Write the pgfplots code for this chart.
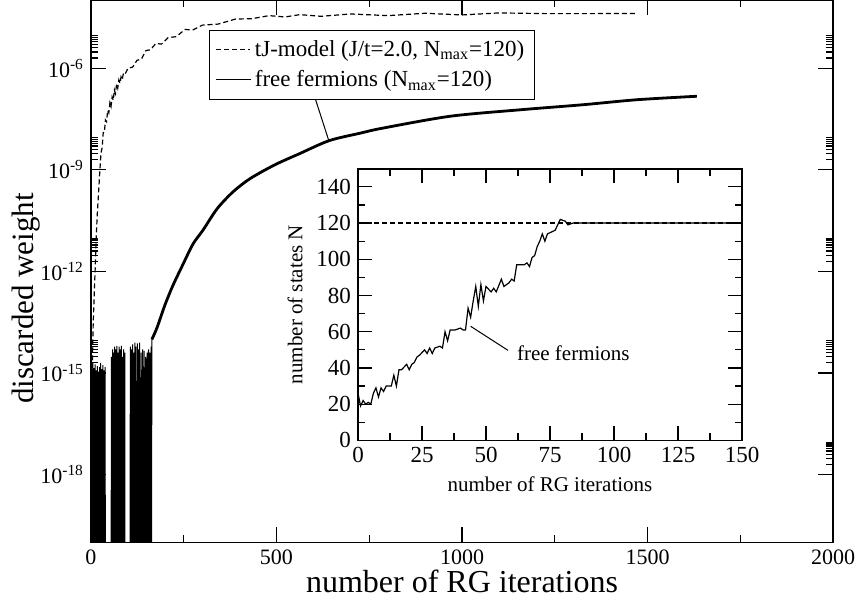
\documentclass[border=0pt]{standalone}
\usepackage{fontspec}
\setmainfont{Liberation Serif}
\usepackage{pgfplots}
\pgfplotsset{compat=1.18}
\begin{document}
\begin{tikzpicture}
\begin{axis}[
  name=main,
  scale only axis, width=371pt, height=271pt,
  xmin=0, xmax=2000,
  ymode=log, ymin=1e-20, ymax=1e-4,
  xtick={0,500,1000,1500,2000}, minor x tick num=1,
  ytick={1e-18,1e-15,1e-12,1e-9,1e-6},
  yticklabels={10\textsuperscript{-18},10\textsuperscript{-15},10\textsuperscript{-12},10\textsuperscript{-9},10\textsuperscript{-6}},
  minor ytick={2e-18,3e-18,4e-18,5e-18,6e-18,7e-18,8e-18,9e-18,
               2e-15,3e-15,4e-15,5e-15,6e-15,7e-15,8e-15,9e-15,
               2e-12,3e-12,4e-12,5e-12,6e-12,7e-12,8e-12,9e-12,
               2e-9,3e-9,4e-9,5e-9,6e-9,7e-9,8e-9,9e-9,
               2e-6,3e-6,4e-6,5e-6,6e-6,7e-6,8e-6,9e-6},
  tick pos=both, tick align=inside,
  major tick length=7.5pt, minor tick length=3.5pt,
  every tick/.style={black, line width=0.6pt},
  axis line style={line width=0.8pt},
  /pgf/number format/assume math mode=true,
  /pgf/number format/1000 sep={},
  tick label style={font=\fontsize{11}{13}\selectfont},
  xlabel={number of RG iterations},
  ylabel={discarded weight},
  xlabel style={font=\fontsize{16}{19}\selectfont, at={(rel axis cs:0.5,0)}, anchor=center, yshift=-19.5pt},
  ylabel style={font=\fontsize{15.5}{18}\selectfont, at={([xshift=-32.5pt]rel axis cs:0,0.45)}, anchor=center},
  legend style={at={(0.159,0.946)}, anchor=north west, draw=black, line width=0.6pt,
    font=\fontsize{11.5}{13.5}\selectfont, inner xsep=3pt, inner ysep=3pt, row sep=1.5pt},
  legend cell align=left,
  legend image post style={line width=0.6pt},
]
\addplot[black, line width=0.6pt, dash pattern=on 2.5pt off 1.5pt] coordinates {
(1.5,1e-21) (2.5,5e-16) (6,3.16e-14) (11,1e-12) (14,1e-11) (17,5.01e-11) (20,1.78e-10) (24,1e-9)
(27,3.16e-9) (30,4.47e-9) (33,1.26e-8) (36,1.26e-8) (39,2.95e-8) (42,2.63e-8) (45,5.75e-8) (48,4.79e-8)
(51,9.55e-8) (54,7.41e-8) (57,1.41e-7) (60,1.12e-7) (63,2.29e-7) (66,1.78e-7) (69,3.39e-7) (72,2.57e-7)
(75,4.47e-7) (78,3.55e-7) (81,5.50e-7) (84,4.57e-7) (87,6.61e-7) (90,6.17e-7)
(100,1.00e-6) (112,1.07e-6) (124,1.70e-6) (136,1.86e-6) (148,3.31e-6) (160,3.47e-6) (175,5.37e-6) (190,5.13e-6)
(208,7.94e-6) (230,8.51e-6) (253,1.38e-5) (275,1.35e-5) (300,1.86e-5) (343,2.00e-5) (390,2.82e-5) (433,2.88e-5)
(480,3.55e-5) (523,3.24e-5) (563,3.80e-5) (620,3.39e-5) (700,3.98e-5) (800,3.55e-5) (900,4.17e-5) (1000,3.72e-5)
(1100,4.27e-5) (1224,4.07e-5) (1350,4.07e-5) (1474,4.12e-5)
};
\addlegendentry{tJ-model (J/t=2.0, N\textsubscript{max}=120)}
\addplot[black, line width=0.5pt, forget plot] coordinates {
(0,1e-24) (1,1.6e-15) (2,1e-24) (3,1.3e-15) (4,1e-24) (5,2e-15) (6,1e-24) (8,1.4e-15) (9,1e-24)
(11,1.8e-15) (12,1e-24) (14,1.2e-15) (15,1e-24) (17,1.6e-15) (18,1e-24) (20,1.1e-15) (21,1e-24)
(23,1.5e-15) (24,1e-24) (26,2e-15) (27,1e-24) (29,1.3e-15) (30,1e-24) (32,1.7e-15) (33,1e-24)
(35,1.2e-15) (36,1e-24) (38,1.5e-15) (39,1e-24)
(54,1e-24) (55,3e-15) (56,1e-24) (58,5e-15) (59,1e-24) (61,4e-15) (62,1e-24) (64,6e-15) (65,1e-24)
(67,5e-15) (68,1e-24) (70,6.3e-15) (71,1e-24) (73,4e-15) (74,1e-24) (76,6e-15) (77,1e-24)
(79,5e-15) (80,1e-24) (82,6.3e-15) (83,1e-24) (85,3e-15) (86,1e-24) (88,5e-15) (89,1e-24)
(91,4e-15) (92,1e-24)
(105,1e-24) (106,6e-15) (107,1e-24) (109,5e-15) (110,1e-24) (112,7e-15) (113,1e-24) (115,4e-15)
(116,1e-24) (118,7.9e-15) (119,1e-24) (121,6e-15) (122,1e-24) (125,7.5e-15) (126,1e-24) (128,5e-15)
(129,1e-24) (131,7.9e-15) (132,1e-24) (135,4e-15) (136,1e-24) (139,5e-15) (140,1e-24) (143,4.5e-15)
(144,1e-24) (147,3e-15) (148,1e-24) (151,4e-15) (152,1e-24) (155,5e-15) (156,1e-24) (159,4e-15)
(160,1e-24) (162,6e-15) (163,1e-24) (164,9.77e-15)
};
\addplot[black, line width=1.4pt, smooth, tension=0.5] coordinates {
(164,9.77e-15) (178,2.19e-14) (199,1.00e-13) (221,3.89e-13) (248,1.62e-12) (275,6.46e-12)
(302,1.66e-11) (340,7.08e-11) (383,2.24e-10) (429,5.50e-10) (496,1.41e-9) (563,3.02e-9)
(642,7.24e-9) (725,1.20e-8) (787,1.70e-8) (968,3.80e-8) (1156,5.89e-8) (1326,8.32e-8)
(1472,1.17e-7) (1633,1.48e-7)
};
\addlegendentry{free fermions (N\textsubscript{max}=120)}
\draw[line width=0.5pt] (axis cs:598,2.09e-7) -- (axis cs:641,7.24e-9);
\end{axis}
\begin{axis}[
  name=inset,
  at={(133.5pt,51pt)}, anchor=south west,
  scale only axis, width=192pt, height=135.85pt,
  xmin=0, xmax=150, ymin=0, ymax=150,
  xtick={0,25,50,75,100,125,150}, minor x tick num=1,
  ytick={0,20,40,60,80,100,120,140}, minor y tick num=1,
  tick pos=both, tick align=inside,
  major tick length=7pt, minor tick length=3.5pt,
  every tick/.style={black, line width=0.6pt},
  axis line style={line width=0.8pt},
  axis background/.style={fill=white},
  /pgf/number format/assume math mode=true,
  tick label style={font=\fontsize{11.5}{13.5}\selectfont},
  label style={font=\fontsize{10.5}{12.5}\selectfont},
  xlabel={number of RG iterations},
  ylabel={number of states N},
]
\addplot[black, line width=0.6pt, dash pattern=on 2.5pt off 1.5pt] coordinates {(0,120) (150,120)};
\addplot[black, line width=0.6pt] coordinates {
(0,26) (1,19) (2,22) (3,20) (4,21) (5,20) (6,26) (7,29) (8,24) (9,29) (10,27) (11,30) (13,30)
(14,36) (15,30) (16,39) (17,39) (19,42) (20,39) (21,42) (22,43) (23,46) (24,47) (26,50) (27,48)
(28,51) (29,48) (30,51) (32,52) (33,51) (34,60) (35,55) (36,61) (38,61) (40,62) (41,61) (42,61)
(43,73) (44,68) (45,77) (46,85) (47,74) (48,86) (49,77) (50,85) (52,82) (53,84) (54,82) (56,89)
(57,85) (59,87) (60,89) (61,88) (62,97) (65,97) (66,98) (67,96) (68,101) (69,102) (70,107)
(71,110) (72,114) (73,110) (74,114) (77,116) (78,119) (79,122) (81,121) (82,119) (84,120) (150,120)
};
\draw[line width=0.5pt] (axis cs:44,63) -- (axis cs:58.6,49.7);
\node[anchor=west, font=\fontsize{10.5}{12.5}\selectfont, inner sep=0pt] at (axis cs:62,48) {free fermions};
\end{axis}
\pgfresetboundingbox
\useasboundingbox ([shift={(-45.5pt,-29pt)}]main.south west) rectangle ([shift={(12.5pt,0.2pt)}]main.north east);
\end{tikzpicture}
\end{document}
